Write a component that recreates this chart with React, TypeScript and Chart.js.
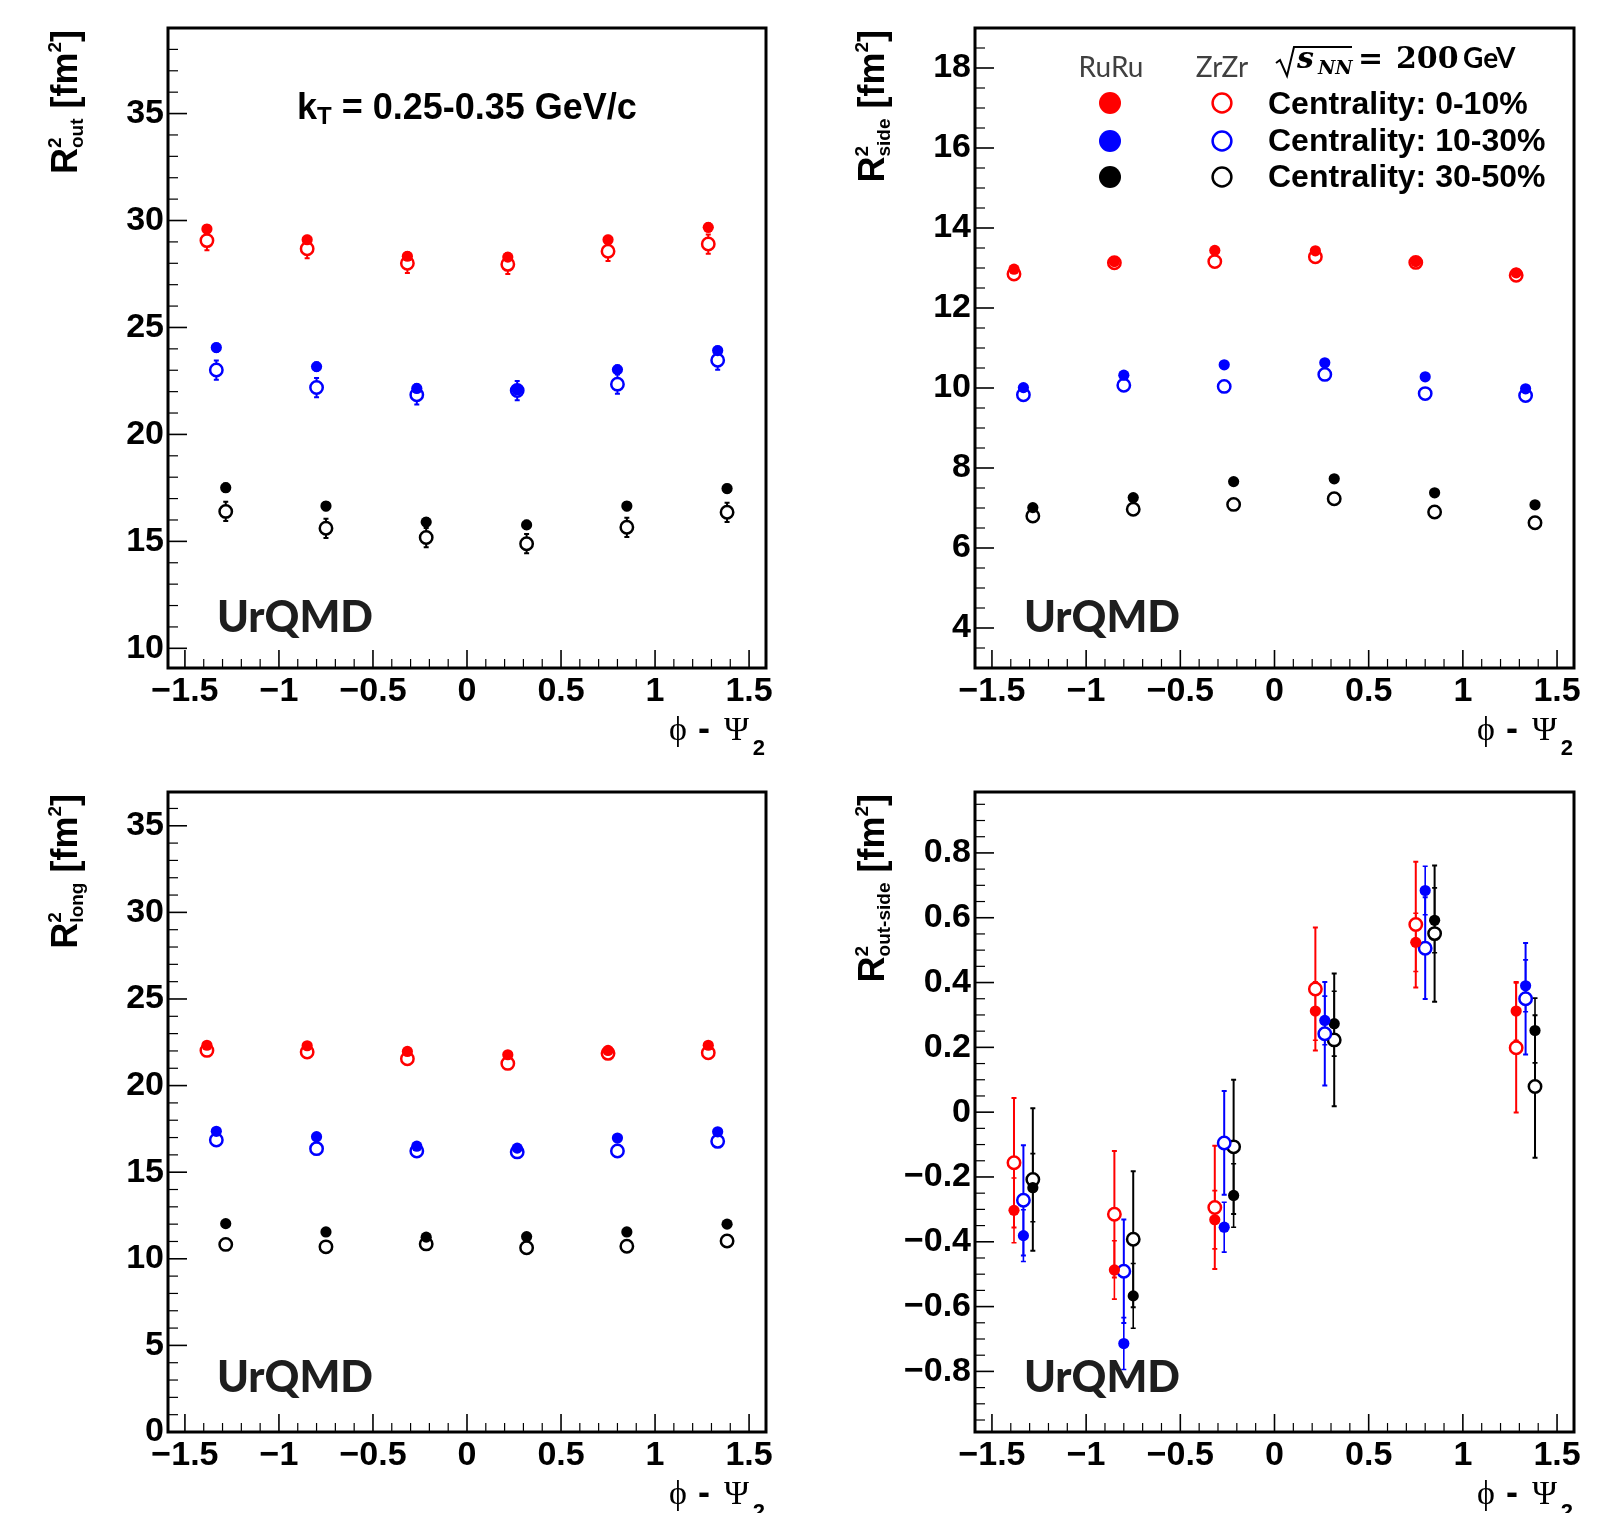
import React, { useEffect, useRef } from "react";
import { Chart, registerables } from "chart.js";

Chart.register(...registerables);

// ---------------- data ----------------
// phi - Psi2 positions for each centrality class (points offset per class)
const phiC0 = [-1.383, -0.85, -0.317, 0.217, 0.75, 1.283];
const phiC1 = [-1.333, -0.8, -0.267, 0.267, 0.8, 1.333];
const phiC2 = [-1.283, -0.75, -0.217, 0.317, 0.85, 1.383];

const xTickValues = [-1.5, -1, -0.5, 0, 0.5, 1, 1.5];

// R^2_out [fm^2]
const outRu0 = [29.6, 29.1, 28.33, 28.29, 29.1, 29.68];
const outZr0 = [29.06, 28.68, 28.0, 27.95, 28.56, 28.9];
const outRu1 = [24.06, 23.17, 22.15, 22.08, 23.03, 23.92];
const outZr1 = [23.01, 22.19, 21.85, 22.05, 22.35, 23.47];
const outRu2 = [17.51, 16.65, 15.9, 15.77, 16.65, 17.47];
const outZr2 = [16.4, 15.61, 15.18, 14.89, 15.66, 16.36];
const outRuErr = [0.2, 0.2, 0.2, 0.2, 0.2, 0.2];
const outZrErr = [0.45, 0.45, 0.45, 0.45, 0.45, 0.45];
const outYTicks = [10, 15, 20, 25, 30, 35];

// R^2_side [fm^2]
const sideRu0 = [12.97, 13.16, 13.44, 13.43, 13.16, 12.88];
const sideZr0 = [12.85, 13.13, 13.16, 13.28, 13.14, 12.82];
const sideRu1 = [10.01, 10.32, 10.58, 10.63, 10.28, 9.98];
const sideZr1 = [9.83, 10.07, 10.04, 10.34, 9.86, 9.81];
const sideRu2 = [7.01, 7.26, 7.66, 7.73, 7.38, 7.08];
const sideZr2 = [6.8, 6.97, 7.09, 7.23, 6.9, 6.63];
const sideRuErr = [0.06, 0.06, 0.06, 0.06, 0.06, 0.06];
const sideZrErr = [0.12, 0.12, 0.12, 0.12, 0.12, 0.12];
const sideYTicks = [4, 6, 8, 10, 12, 14, 16, 18];

// R^2_long [fm^2]
const longRu0 = [22.33, 22.3, 21.97, 21.78, 22.03, 22.33];
const longZr0 = [22.03, 21.94, 21.55, 21.28, 21.86, 21.89];
const longRu1 = [17.36, 17.05, 16.5, 16.39, 16.97, 17.33];
const longZr1 = [16.86, 16.36, 16.22, 16.17, 16.22, 16.78];
const longRu2 = [12.03, 11.55, 11.25, 11.28, 11.55, 12.0];
const longZr2 = [10.83, 10.69, 10.86, 10.64, 10.72, 11.03];
const longRuErr = [0.12, 0.12, 0.12, 0.12, 0.12, 0.12];
const longZrErr = [0.25, 0.25, 0.25, 0.25, 0.25, 0.25];
const longYTicks = [0, 5, 10, 15, 20, 25, 30, 35];

// R^2_out-side [fm^2]
const osRu0 = [-0.303, -0.487, -0.332, 0.312, 0.524, 0.312];
const osRu0Err = [0.1, 0.09, 0.09, 0.09, 0.09, 0.09];
const osZr0 = [-0.156, -0.315, -0.294, 0.38, 0.579, 0.199];
const osZr0Err = [0.2, 0.195, 0.19, 0.19, 0.194, 0.2];
const osRu1 = [-0.381, -0.714, -0.355, 0.283, 0.684, 0.39];
const osRu1Err = [0.08, 0.08, 0.077, 0.075, 0.075, 0.08];
const osZr1 = [-0.272, -0.491, -0.095, 0.242, 0.506, 0.35];
const osZr1Err = [0.17, 0.16, 0.16, 0.16, 0.157, 0.172];
const osRu2 = [-0.233, -0.567, -0.257, 0.273, 0.592, 0.252];
const osRu2Err = [0.105, 0.1, 0.098, 0.1, 0.1, 0.1];
const osZr2 = [-0.208, -0.392, -0.107, 0.223, 0.551, 0.079];
const osZr2Err = [0.22, 0.21, 0.207, 0.205, 0.21, 0.22];
const osYTicks = [-0.8, -0.6, -0.4, -0.2, 0, 0.2, 0.4, 0.6, 0.8];

const centralityLabels = ["Centrality: 0-10%", "Centrality: 10-30%", "Centrality: 30-50%"];
const systemLabels = ["RuRu", "ZrZr"];

// ---------------- styling ----------------
const SANS = "'Liberation Sans', Arial, Helvetica, sans-serif";
const SERIF = "'Liberation Serif', 'DejaVu Serif', serif";
const COLORS = ["#ff0000", "#0000ff", "#000000"];

interface Series {
  x: number[];
  y: number[];
  e: number[];
  color: string;
  open: boolean;
}
interface Area {
  left: number;
  top: number;
  right: number;
  bottom: number;
}
interface PanelDef {
  left: number;
  top: number;
  width: number;
  height: number;
  area: Area;
  yMin: number;
  yMax: number;
  yTicks: number[];
  yMajor: number;
  yMinor: number;
  sub: string;
  series: Series[];
  annot: "kt" | "legend" | null;
}

function mk(ru: number[][], zr: number[][], ruE: number[][], zrE: number[][]): Series[] {
  const xs = [phiC0, phiC1, phiC2];
  const s: Series[] = [];
  for (let i = 0; i < 3; i++) s.push({ x: xs[i], y: ru[i], e: ruE[i], color: COLORS[i], open: false });
  for (let i = 0; i < 3; i++) s.push({ x: xs[i], y: zr[i], e: zrE[i], color: COLORS[i], open: true });
  return s;
}

const PANELS: PanelDef[] = [
  {
    left: 0, top: 0, width: 809, height: 760,
    area: { left: 168, top: 28, right: 766, bottom: 668 },
    yMin: 9.08, yMax: 39.0, yTicks: outYTicks, yMajor: 5, yMinor: 1, sub: "out",
    series: mk([outRu0, outRu1, outRu2], [outZr0, outZr1, outZr2], [outRuErr, outRuErr, outRuErr], [outZrErr, outZrErr, outZrErr]),
    annot: "kt",
  },
  {
    left: 809, top: 0, width: 809, height: 760,
    area: { left: 166, top: 28, right: 765, bottom: 668 },
    yMin: 3.0, yMax: 19.0, yTicks: sideYTicks, yMajor: 2, yMinor: 0.5, sub: "side",
    series: mk([sideRu0, sideRu1, sideRu2], [sideZr0, sideZr1, sideZr2], [sideRuErr, sideRuErr, sideRuErr], [sideZrErr, sideZrErr, sideZrErr]),
    annot: "legend",
  },
  {
    left: 0, top: 760, width: 809, height: 753,
    area: { left: 168, top: 32, right: 766, bottom: 672 },
    yMin: 0, yMax: 36.95, yTicks: longYTicks, yMajor: 5, yMinor: 1, sub: "long",
    series: mk([longRu0, longRu1, longRu2], [longZr0, longZr1, longZr2], [longRuErr, longRuErr, longRuErr], [longZrErr, longZrErr, longZrErr]),
    annot: null,
  },
  {
    left: 809, top: 760, width: 809, height: 753,
    area: { left: 166, top: 32, right: 765, bottom: 672 },
    yMin: -0.987, yMax: 0.988, yTicks: osYTicks, yMajor: 0.2, yMinor: 0.05, sub: "out-side",
    series: mk([osRu0, osRu1, osRu2], [osZr0, osZr1, osZr2], [osRu0Err, osRu1Err, osRu2Err], [osZr0Err, osZr1Err, osZr2Err]),
    annot: null,
  },
];

function fmt(v: number): string {
  if (Math.abs(v) < 1e-9) return "0";
  const a = Math.abs(v);
  const s = Number.isInteger(a) ? String(a) : String(+a.toFixed(2));
  return (v < 0 ? "\u2212" : "") + s;
}

type Seg = { t: string; f: string; dy?: number } | { stack: { t: string; f: string; dy: number }[] };

function segW(ctx: CanvasRenderingContext2D, s: Seg): number {
  if ("stack" in s) {
    let w = 0;
    for (const p of s.stack) {
      ctx.font = p.f;
      w = Math.max(w, ctx.measureText(p.t).width);
    }
    return w;
  }
  ctx.font = s.f;
  return ctx.measureText(s.t).width;
}

function drawSegs(ctx: CanvasRenderingContext2D, segs: Seg[], x: number, y: number) {
  let cx = x;
  ctx.textAlign = "left";
  ctx.textBaseline = "alphabetic";
  for (const s of segs) {
    const w = segW(ctx, s);
    if ("stack" in s) {
      for (const p of s.stack) {
        ctx.font = p.f;
        ctx.fillText(p.t, cx, y + p.dy);
      }
    } else {
      ctx.font = s.f;
      ctx.fillText(s.t, cx, y + (s.dy || 0));
    }
    cx += w;
  }
}

function makePlugin(def: PanelDef) {
  return {
    id: "panelDeco",
    beforeDatasetsDraw(chart: any) {
      const ctx: CanvasRenderingContext2D = chart.ctx;
      const xs = chart.scales.x;
      const ys = chart.scales.y;
      ctx.save();
      // error bars (drawn under markers)
      for (let si = def.series.length - 1; si >= 0; si--) {
        const s = def.series[si];
        ctx.strokeStyle = s.color;
        ctx.lineWidth = s.open ? 2 : 1.6;
        for (let j = 0; j < s.y.length; j++) {
          const px = xs.getPixelForValue(s.x[j]);
          const p0 = ys.getPixelForValue(s.y[j] - s.e[j]);
          const p1 = ys.getPixelForValue(s.y[j] + s.e[j]);
          ctx.beginPath();
          ctx.moveTo(px, p0);
          ctx.lineTo(px, p1);
          ctx.moveTo(px - 2.5, p0);
          ctx.lineTo(px + 2.5, p0);
          ctx.moveTo(px - 2.5, p1);
          ctx.lineTo(px + 2.5, p1);
          ctx.stroke();
        }
      }
      ctx.restore();
    },
    afterDraw(chart: any) {
      const ctx: CanvasRenderingContext2D = chart.ctx;
      const a = chart.chartArea;
      const xs = chart.scales.x;
      const ys = chart.scales.y;
      ctx.save();
      // ticks inside the frame
      ctx.strokeStyle = "#000";
      const kx0 = Math.ceil(xs.min / 0.1 - 1e-6);
      const kx1 = Math.floor(xs.max / 0.1 + 1e-6);
      for (let k = kx0; k <= kx1; k++) {
        const major = k % 5 === 0;
        const px = xs.getPixelForValue(k * 0.1);
        ctx.lineWidth = major ? 1.6 : 1.2;
        ctx.beginPath();
        ctx.moveTo(px, a.bottom);
        ctx.lineTo(px, a.bottom - (major ? 18 : 9));
        ctx.stroke();
      }
      const ratio = Math.round(def.yMajor / def.yMinor);
      const ky0 = Math.ceil(ys.min / def.yMinor - 1e-6);
      const ky1 = Math.floor(ys.max / def.yMinor + 1e-6);
      for (let k = ky0; k <= ky1; k++) {
        const major = ((k % ratio) + ratio) % ratio === 0;
        const py = ys.getPixelForValue(k * def.yMinor);
        ctx.lineWidth = major ? 1.6 : 1.2;
        ctx.beginPath();
        ctx.moveTo(a.left, py);
        ctx.lineTo(a.left + (major ? 19 : 10), py);
        ctx.stroke();
      }
      // frame
      ctx.lineWidth = 3;
      ctx.strokeRect(a.left, a.top, a.right - a.left, a.bottom - a.top);

      ctx.fillStyle = "#000";
      // y-axis title (rotated)
      const big = `bold 36px ${SANS}`;
      const small = `bold 19px ${SANS}`;
      const ysegs: Seg[] = [
        { t: "R", f: big },
        { stack: [{ t: "2", f: small, dy: -16 }, { t: def.sub, f: small, dy: 6 }] },
        { t: " [fm", f: big },
        { t: "2", f: small, dy: -16 },
        { t: "]", f: big },
      ];
      let total = 0;
      for (const s of ysegs) total += segW(ctx, s);
      ctx.save();
      ctx.translate(a.left - 91, a.top + 2 + total);
      ctx.rotate(-Math.PI / 2);
      drawSegs(ctx, ysegs, 0, 0);
      ctx.restore();

      // x-axis title: phi - Psi_2 (right aligned)
      const xb = a.bottom + 72;
      ctx.textBaseline = "alphabetic";
      ctx.font = `bold 22px ${SANS}`;
      ctx.textAlign = "right";
      ctx.fillText("2", a.right - 1, xb + 15);
      ctx.font = `34px ${SERIF}`;
      ctx.fillText("\u03A8", a.right - 17, xb);
      ctx.font = `bold 36px ${SANS}`;
      ctx.textAlign = "center";
      ctx.fillText("-", a.right - 62, xb);
      ctx.font = `34px ${SERIF}`;
      ctx.textAlign = "right";
      ctx.fillText("\u03D5", a.right - 79, xb);

      // model label
      ctx.textAlign = "left";
      ctx.fillStyle = "#1e1e1e";
      ctx.font = `900 43px Lato, 'Open Sans', sans-serif`;
      ctx.fillText("UrQMD", a.left + 49, 632);

      ctx.fillStyle = "#000";
      if (def.annot === "kt") {
        drawSegs(
          ctx,
          [
            { t: "k", f: `bold 36px ${SANS}` },
            { t: "T", f: `bold 24px ${SANS}`, dy: 5 },
            { t: " = 0.25-0.35 GeV/c", f: `bold 36px ${SANS}` },
          ],
          297,
          119
        );
      }
      if (def.annot === "legend") {
        // column headers
        ctx.fillStyle = "#404040";
        ctx.font = `28px Lato, 'Noto Sans', sans-serif`;
        ctx.textAlign = "center";
        ctx.fillText(systemLabels[0], 302, 77);
        ctx.fillText(systemLabels[1], 413, 77);
        // markers + labels
        const rows = [103, 141, 177];
        for (let i = 0; i < 3; i++) {
          ctx.fillStyle = COLORS[i];
          ctx.beginPath();
          ctx.arc(301, rows[i], 11, 0, Math.PI * 2);
          ctx.fill();
          ctx.strokeStyle = COLORS[i];
          ctx.lineWidth = 2.5;
          ctx.beginPath();
          ctx.arc(413, rows[i], 9.4, 0, Math.PI * 2);
          ctx.stroke();
        }
        ctx.fillStyle = "#000";
        ctx.textAlign = "left";
        ctx.font = `bold 32px ${SANS}`;
        const bases = [114, 151, 187];
        for (let i = 0; i < 3; i++) ctx.fillText(centralityLabels[i], 459, bases[i]);
        // sqrt(s_NN) = 200 GeV
        ctx.strokeStyle = "#000";
        ctx.lineWidth = 2;
        ctx.beginPath();
        ctx.moveTo(467, 63);
        ctx.lineTo(471, 60);
        ctx.lineTo(478, 76);
        ctx.lineTo(485, 47);
        ctx.lineTo(543, 47);
        ctx.stroke();
        ctx.font = `italic bold 30px 'DejaVu Serif', serif`;
        ctx.fillText("s", 488, 68);
        ctx.font = `italic bold 19px 'DejaVu Serif', serif`;
        ctx.fillText("NN", 509, 74);
        ctx.font = `bold 30px 'DejaVu Serif', serif`;
        ctx.fillText("=", 549, 68);
        ctx.fillText("200", 587, 68);
        ctx.font = `bold 28px Lato, 'Noto Sans', sans-serif`;
        ctx.fillText("GeV", 654, 68);
      }
      ctx.restore();
    },
  };
}

function Panel({ def }: { def: PanelDef }) {
  const ref = useRef<HTMLCanvasElement | null>(null);
  useEffect(() => {
    if (!ref.current) return;
    const datasets = def.series.map((s) => ({
      data: s.x.map((x, j) => ({ x, y: s.y[j] })),
      pointStyle: "circle" as const,
      pointRadius: s.open ? 6.2 : 5.6,
      pointHoverRadius: s.open ? 6.2 : 5.6,
      pointBorderWidth: s.open ? 2.5 : 0,
      pointBackgroundColor: s.open ? "#ffffff" : s.color,
      pointBorderColor: s.color,
      showLine: false,
    }));
    const tickFont = { family: SANS, size: 34, weight: "bold" as const };
    const chart = new Chart(ref.current, {
      type: "scatter",
      data: { datasets },
      options: {
        animation: false,
        responsive: false,
        maintainAspectRatio: false,
        devicePixelRatio: 1,
        events: [],
        layout: { padding: { top: def.area.top, right: def.width - def.area.right, left: 0, bottom: 0 } },
        plugins: { legend: { display: false }, tooltip: { enabled: false } },
        scales: {
          x: {
            type: "linear",
            position: "bottom",
            min: -1.59,
            max: 1.59,
            grid: { display: false, drawTicks: false },
            border: { display: false },
            afterBuildTicks: (s: any) => {
              s.ticks = xTickValues.map((v) => ({ value: v }));
            },
            afterFit: (s: any) => {
              s.height = def.height - def.area.bottom;
            },
            ticks: {
              autoSkip: false,
              maxRotation: 0,
              minRotation: 0,
              padding: 3,
              color: "#000",
              font: tickFont,
              callback: (v: any) => fmt(Number(v)),
            },
          },
          y: {
            type: "linear",
            position: "left",
            min: def.yMin,
            max: def.yMax,
            grid: { display: false, drawTicks: false },
            border: { display: false },
            afterBuildTicks: (s: any) => {
              s.ticks = def.yTicks.map((v) => ({ value: v }));
            },
            afterFit: (s: any) => {
              s.width = def.area.left;
            },
            ticks: {
              autoSkip: false,
              padding: 4,
              color: "#000",
              font: tickFont,
              callback: (v: any) => fmt(Number(v)),
            },
          },
        },
      },
      plugins: [makePlugin(def)],
    } as any);
    return () => chart.destroy();
  }, [def]);
  return (
    <canvas
      ref={ref}
      width={def.width}
      height={def.height}
      style={{ position: "absolute", left: def.left, top: def.top, width: def.width, height: def.height }}
    />
  );
}

export default function App() {
  return (
    <div style={{ position: "absolute", left: 0, top: 0, width: 1618, height: 1513, background: "#fff", overflow: "hidden" }}>
      {PANELS.map((p, i) => (
        <Panel key={i} def={p} />
      ))}
    </div>
  );
}
